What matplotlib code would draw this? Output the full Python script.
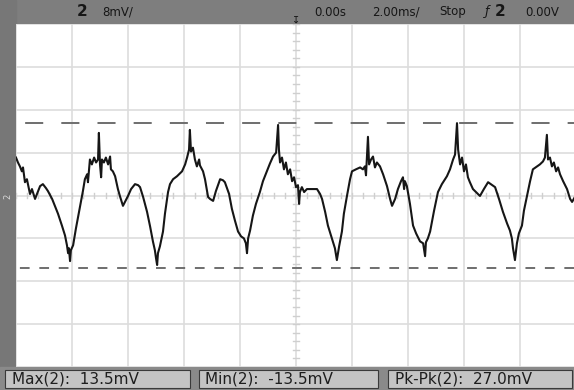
import numpy as np
import matplotlib
matplotlib.use("Agg")
import matplotlib.pyplot as plt
from matplotlib.patches import Rectangle

# ---------------- data ----------------
# time (ms) and channel-2 voltage (mV), traced from the scope screen
t_ms = [
    -10.00, -9.93, -9.86, -9.79, -9.75, -9.68, -9.61, -9.50, -9.43, -9.32, -9.25, -9.14, -9.04, -8.93, -8.86,
    -8.71, -8.61, -8.50, -8.36, -8.25, -8.18, -8.14, -8.11, -8.07, -8.04, -7.96, -7.86, -7.71, -7.61, -7.54,
    -7.46, -7.43, -7.36, -7.29, -7.21, -7.14, -7.07, -7.04, -7.00, -6.96, -6.93, -6.86, -6.79, -6.71, -6.64,
    -6.61, -6.54, -6.46, -6.36, -6.29, -6.18, -6.11, -6.00, -5.89, -5.75, -5.64, -5.57, -5.46, -5.32, -5.21,
    -5.11, -5.04, -5.00, -4.96, -4.93, -4.86, -4.75, -4.68, -4.57, -4.50, -4.39, -4.25, -4.14, -4.07, -3.96,
    -3.89, -3.82, -3.79, -3.75, -3.68, -3.61, -3.54, -3.46, -3.43,
    -3.32, -3.25, -3.14, -3.07, -2.96, -2.86, -2.71, -2.61, -2.54, -2.39, -2.29, -2.18, -2.07, -1.96, -1.86,
    -1.79, -1.75, -1.71, -1.64, -1.54, -1.43, -1.29, -1.18, -1.04, -0.93, -0.82, -0.71, -0.64, -0.61, -0.57,
    -0.50, -0.43, -0.36, -0.29, -0.21, -0.14, -0.07, 0.00, 0.07, 0.11, 0.14, 0.21, 0.29, 0.39, 0.50,
    0.64, 0.75, 0.86, 0.93, 1.04, 1.14, 1.25, 1.32, 1.39, 1.46, 1.54, 1.64, 1.71, 1.82, 1.93,
    2.00, 2.14, 2.29, 2.39, 2.46, 2.50, 2.57, 2.61, 2.68, 2.75, 2.82, 2.89, 3.00, 3.11, 3.25,
    3.36, 3.43,
    3.54, 3.64, 3.75, 3.82, 3.86, 3.89, 3.96, 4.07, 4.18, 4.29, 4.43, 4.54, 4.61, 4.64, 4.71,
    4.79, 4.93, 5.07, 5.21, 5.39, 5.50, 5.61, 5.68, 5.75, 5.79, 5.86, 5.93, 6.00, 6.07, 6.14,
    6.21, 6.32, 6.43, 6.57, 6.71, 6.86, 6.96, 7.11, 7.25, 7.39, 7.54, 7.64, 7.71, 7.75, 7.82,
    7.89, 7.96, 8.07, 8.14, 8.25, 8.36, 8.46, 8.61, 8.71, 8.82, 8.89, 8.96, 9.00, 9.07, 9.14,
    9.21, 9.29, 9.36, 9.43, 9.54, 9.68, 9.79, 9.86, 9.96,
]
v_mv = [
    7.08, 6.16, 5.43, 4.51, 5.24, 2.48, 3.04, 0.28, 1.20, -0.64, 0.28, 1.75, 2.12, 1.38, 0.83,
    -0.64, -1.93, -3.40, -5.61, -7.45, -9.29, -10.76, -9.84, -12.24, -10.21, -9.29, -6.16, -1.93, 0.83, 3.04,
    3.96, 2.48, 6.72, 5.80, 7.08, 6.16, 6.72, 11.68, 5.80, 3.40, 6.72, 6.16, 7.08, 5.80, 7.27,
    4.88, 4.51, 3.59, 1.20, -0.09, -1.93, -1.20, -0.09, 1.20, 2.12, 1.93, 1.56, -0.28, -3.04, -5.80,
    -8.56, -10.21, -11.68, -12.97, -10.76, -9.48, -6.72, -3.40, 0.64, 2.12, 3.04, 3.59, 4.14, 4.51, 5.80,
    7.08, 8.56, 12.24, 8.19, 8.92, 6.72, 5.43, 6.72, 5.61,
    4.51, 3.04, -0.28, -0.64, -1.01, 0.83, 3.04, 2.85, 2.48, 0.28, -2.48, -4.69, -6.72, -7.64, -8.00,
    -8.92, -10.76, -8.00, -6.53, -3.77, -1.56, 0.64, 2.67, 4.51, 5.98, 7.27, 8.00, 13.16, 8.56, 6.16,
    7.08, 4.88, 6.16, 3.96, 4.88, 2.67, 3.40, 1.56, 1.93, -1.56, 0.64, 1.56, 0.64, 1.20, 1.20,
    1.20, 1.20, 0.28, -0.64, -3.04, -5.61, -7.45, -8.56, -9.84, -12.05, -9.48, -6.72, -3.40, -0.09, 3.04,
    4.51, 4.88, 5.24, 4.88, 5.43, 3.77, 10.95, 5.80, 6.72, 7.27, 5.24, 6.16, 5.43, 3.96, 1.75,
    -0.64, -1.93,
    -0.64, 1.20, 2.67, 3.40, 1.20, 2.67, 1.75, -1.56, -5.61, -7.08, -8.56, -8.92, -11.32, -8.74, -8.00,
    -6.72, -2.85, 0.64, 2.12, 3.59, 4.88, 6.72, 7.64, 13.50, 8.56, 5.80, 7.08, 4.51, 5.80, 3.40,
    2.48, 1.20, 0.64, -0.09, 1.20, 2.48, 2.12, 1.56, -0.64, -3.04, -5.24, -6.53, -8.00, -9.84, -12.05,
    -8.92, -7.08, -5.61, -2.85, -0.09, 2.67, 4.88, 5.43, 5.80, 6.35, 7.08, 11.32, 6.72, 7.08, 5.43,
    6.16, 4.51, 5.24, 3.96, 2.67, 1.20, -0.64, -1.20, -0.28,
]
cursor_max_mv = 13.5
cursor_min_mv = -13.5
ms_per_div = 2.0
mv_per_div = 8.0
n_xdiv = 10
n_ydiv = 8

top_labels = ["2", "8mV/", "0.00s", "2.00ms/", "Stop", "\u0192", "2", "0.00V"]
meas_labels = ["Max(2):  13.5mV", "Min(2):  -13.5mV", "Pk-Pk(2):  27.0mV"]

# ---------------- figure ----------------
W, H = 574, 390
fig = plt.figure(figsize=(W / 100, H / 100), dpi=100, facecolor="#7e7e7e")

def fx(px):
    return px / W

def fy(py):
    return 1 - py / H

# left strip slightly darker
fig.patches.append(Rectangle((0, 0), fx(16), 1, transform=fig.transFigure,
                             color="#777777", zorder=0))
# bottom bar
fig.patches.append(Rectangle((0, 0), 1, fy(367), transform=fig.transFigure,
                             color="#8a8a8a", zorder=0))

left_px, right_px, top_px, bot_px = 16, 576, 24, 367
ax = fig.add_axes([fx(left_px), fy(bot_px), (right_px - left_px) / W, (bot_px - top_px) / H])
ax.set_zorder(2)
ax.set_facecolor("white")
xhalf = n_xdiv / 2 * ms_per_div
yhalf = n_ydiv / 2 * mv_per_div
ax.set_xlim(-xhalf, xhalf)
ax.set_ylim(-yhalf, yhalf)
ax.set_xticks(np.arange(-xhalf, xhalf + 0.01, ms_per_div))
ax.set_yticks(np.arange(-yhalf, yhalf + 0.01, mv_per_div))
ax.grid(True, color="#dddddd", linewidth=1.2)
ax.tick_params(length=0, labelbottom=False, labelleft=False)
for s in ax.spines.values():
    s.set_visible(False)
ax.set_axisbelow(True)

# minor graticule ticks on the centre lines
for tx in np.arange(-xhalf, xhalf + 0.01, ms_per_div / 5):
    ax.plot([tx, tx], [-0.55, 0.55], color="#cfcfcf", lw=1.0, zorder=1)
for ty in np.arange(-yhalf, yhalf + 0.01, mv_per_div / 5):
    ax.plot([-0.1, 0.1], [ty, ty], color="#cfcfcf", lw=1.0, zorder=1)

# cursors
ax.axhline(cursor_max_mv, color="#6e6e6e", lw=1.4, linestyle=(13.9, (9.3, 9.3)), zorder=2)
ax.axhline(cursor_min_mv, color="#6e6e6e", lw=1.4, linestyle=(8.0, (5.0, 5.0)), zorder=2)

# waveform
ax.plot(t_ms, v_mv, color="#161616", lw=1.5, zorder=3, solid_joinstyle="round")

# ---------------- top status line ----------------
ty_top = fy(12)
tc = "#161616"
fig.text(fx(82), ty_top, top_labels[0], fontsize=11, fontweight="bold", color=tc, ha="center", va="center")
fig.text(fx(102), ty_top, top_labels[1], fontsize=8.5, color=tc, ha="left", va="center")
fig.text(fx(314), ty_top, top_labels[2], fontsize=8.5, color=tc, ha="left", va="center")
fig.text(fx(372), ty_top, top_labels[3], fontsize=8.5, color=tc, ha="left", va="center")
fig.text(fx(439), ty_top, top_labels[4], fontsize=8.5, color=tc, ha="left", va="center")
fig.text(fx(487), ty_top, top_labels[5], fontsize=9, color=tc, ha="center", va="center", style="italic")
fig.text(fx(500), ty_top, top_labels[6], fontsize=11, fontweight="bold", color=tc, ha="center", va="center")
fig.text(fx(525), ty_top, top_labels[7], fontsize=8.5, color=tc, ha="left", va="center")
# trigger marker at the top of the centre line
fig.text(fx(296), fy(20), "\u21a7", fontsize=7, color=tc, ha="center", va="center", zorder=5)
# ground marker on left strip
fig.text(fx(8), fy(196), "2", fontsize=6, color="#d8d8d8", ha="center", va="center", rotation=90)

# ---------------- bottom measurement boxes ----------------
boxes = [(5, 190, 12), (199, 378, 205), (388, 572, 395)]
for (x0, x1, tx0), lab in zip(boxes, meas_labels):
    fig.patches.append(Rectangle((fx(x0), fy(388)), fx(x1 - x0), fy(370) - fy(388),
                                 transform=fig.transFigure, facecolor="#c4c4c4",
                                 edgecolor="#3a3a3a", linewidth=0.8, zorder=1))
    fig.text(fx(tx0), fy(379.5), lab, fontsize=11, color="#1e1e1e", ha="left", va="center", zorder=2)

fig.savefig("out.png", dpi=100, facecolor=fig.get_facecolor())
